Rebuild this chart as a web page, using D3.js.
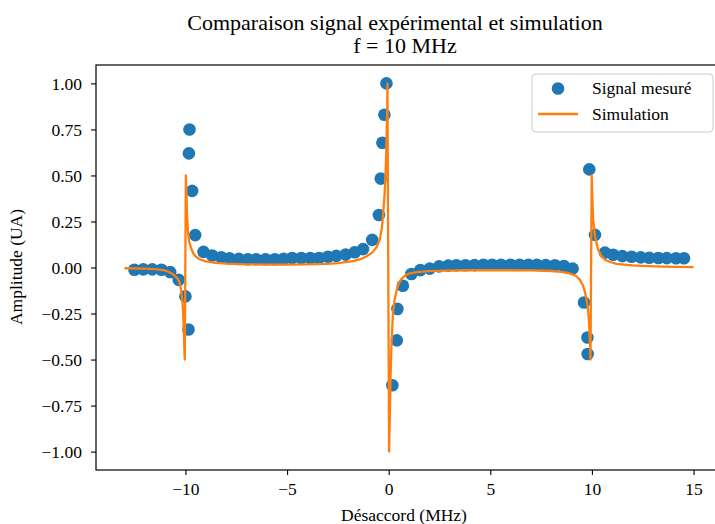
<!DOCTYPE html>
<html>
<head>
<meta charset="utf-8">
<script src="https://cdn.jsdelivr.net/npm/d3@7"></script>
<style>
  body { margin: 0; background: #fff; }
  svg text { font-family: "Liberation Serif", "DejaVu Serif", serif; fill: #000; }
</style>
</head>
<body>
<div id="chart"></div>
<script>
const mesX = [-12.51, -12.07, -11.63, -11.18, -10.75, -10.33, -10.0, -9.85, -9.83, -9.80,
  -9.67, -9.52, -9.11, -8.68, -8.24, -7.83, -7.37, -6.93, -6.52, -6.06,
  -5.6, -5.17, -4.75, -4.3, -3.86, -3.43, -2.99, -2.58, -2.12, -1.67,
  -1.26, -0.81, -0.48, -0.39, -0.31, -0.21, -0.11, 0.18, 0.40, 0.43,
  0.70, 1.12, 1.56, 2.02, 2.48, 2.93, 3.33, 3.78, 4.22, 4.66,
  5.09, 5.53, 6.0, 6.44, 6.87, 7.29, 7.73, 8.18, 8.62, 9.05,
  9.61, 9.78, 9.79, 9.87, 10.15, 10.64, 11.05, 11.5, 11.95, 12.4,
  12.82, 13.27, 13.68, 14.14, 14.53];
const mesY = [-0.012, -0.010, -0.010, -0.012, -0.025, -0.067, -0.157, -0.337, 0.62, 0.75,
  0.416, 0.176, 0.085, 0.065, 0.056, 0.050, 0.047, 0.045, 0.045, 0.045,
  0.045, 0.047, 0.052, 0.052, 0.052, 0.052, 0.058, 0.063, 0.070, 0.083,
  0.10, 0.15, 0.285, 0.483, 0.678, 0.83, 1.0, -0.64, -0.396, -0.225,
  -0.099, -0.035, -0.014, -0.006, 0.006, 0.010, 0.012, 0.012, 0.013, 0.015,
  0.015, 0.015, 0.015, 0.015, 0.015, 0.015, 0.013, 0.012, 0.008, -0.006,
  -0.19, -0.38, -0.47, 0.533, 0.177, 0.081, 0.069, 0.062, 0.058, 0.055,
  0.053, 0.052, 0.051, 0.050, 0.050];

// simulation curve
const simX = [-13.0, -12.0, -11.5, -11.0, -10.8, -10.6, -10.4, -10.3, -10.22, -10.15,
  -10.11, -10.08, -10.05, -10.03, -9.98, -9.95, -9.92, -9.88, -9.82, -9.72,
  -9.6, -9.48, -9.3, -9.0, -8.5, -8.0, -7.0, -6.0, -5.0, -4.0,
  -3.0, -2.5, -2.0, -1.7, -1.4, -1.1, -0.8, -0.6, -0.44, -0.34,
  -0.28, -0.2, -0.14, -0.1, -0.07, -0.06, 0.02, 0.06, 0.09, 0.13,
  0.21, 0.3, 0.36, 0.45, 0.6, 0.8, 1.03, 1.4, 2.0, 2.8,
  4.0, 5.0, 6.0, 7.0, 8.0, 8.5, 8.9, 9.2, 9.4, 9.55,
  9.65, 9.73, 9.8, 9.86, 9.9, 9.93, 9.99, 10.02, 10.06, 10.15,
  10.31, 10.45, 10.64, 10.9, 11.2, 12.0, 12.5, 13.5, 15.0];
const simY = [-0.004, -0.006, -0.009, -0.016, -0.025, -0.038, -0.058, -0.078, -0.12, -0.18,
  -0.25, -0.35, -0.45, -0.50, 0.50, 0.40, 0.29, 0.20, 0.14, 0.105,
  0.075, 0.058, 0.045, 0.033, 0.025, 0.021, 0.017, 0.016, 0.016, 0.017,
  0.020, 0.024, 0.030, 0.036, 0.045, 0.060, 0.082, 0.11, 0.15, 0.21,
  0.28, 0.40, 0.55, 0.72, 0.88, 1.00, -1.00, -0.80, -0.60, -0.445,
  -0.245, -0.17, -0.14, -0.10, -0.066, -0.045, -0.032, -0.025, -0.020, -0.017,
  -0.015, -0.015, -0.015, -0.016, -0.019, -0.024, -0.032, -0.045, -0.066, -0.095,
  -0.13, -0.17, -0.22, -0.30, -0.40, -0.50, 0.50, 0.38, 0.26, 0.17,
  0.096, 0.065, 0.042, 0.030, 0.020, 0.012, 0.009, 0.005, 0.002];

const xTicks = [-10, -5, 0, 5, 10, 15];
const yTicks = [-1.0, -0.75, -0.5, -0.25, 0, 0.25, 0.5, 0.75, 1.0];

const W = 715, H = 524;
const mL = 96, mR = 722, mT = 65, mB = 470;
const fs = "17.5px";

const svg = d3.select("#chart").append("svg")
  .attr("width", W).attr("height", H)
  .attr("xmlns", "http://www.w3.org/2000/svg");

const x = d3.scaleLinear().domain([-14.4, 16.4]).range([mL, mR]);
const y = d3.scaleLinear().domain([-1.1, 1.1]).range([mB, mT]);

const minus = s => s.replace("-", "\u2212");

// clip
svg.append("clipPath").attr("id", "plot")
  .append("rect").attr("x", mL).attr("y", mT)
  .attr("width", mR - mL).attr("height", mB - mT);

const plot = svg.append("g").attr("clip-path", "url(#plot)");

// measured points
plot.selectAll("circle.mes")
  .data(mesX.map((v, i) => [v, mesY[i]]))
  .join("circle")
  .attr("class", "mes")
  .attr("cx", d => x(d[0]))
  .attr("cy", d => y(d[1]))
  .attr("r", 6.3)
  .attr("fill", "#1f77b4");

// simulation line
const line = d3.line().x(d => x(d[0])).y(d => y(d[1]));
plot.append("path")
  .datum(simX.map((v, i) => [v, simY[i]]))
  .attr("fill", "none")
  .attr("stroke", "#ff7f0e")
  .attr("stroke-width", 2.3)
  .attr("stroke-linejoin", "round")
  .attr("d", line);

// axes
const xAxis = svg.append("g")
  .attr("transform", `translate(0,${mB})`)
  .call(d3.axisBottom(x).tickValues(xTicks).tickSize(5).tickPadding(8)
    .tickFormat(d => minus(d3.format("d")(d))));
const yAxis = svg.append("g")
  .attr("transform", `translate(${mL},0)`)
  .call(d3.axisLeft(y).tickValues(yTicks).tickSize(5).tickPadding(9)
    .tickFormat(d => minus(d3.format(".2f")(d))));

[xAxis, yAxis].forEach(a => {
  a.select(".domain").remove();
  a.selectAll(".tick line").attr("stroke", "#000").attr("stroke-width", 1.1);
  a.selectAll(".tick text").style("font-size", fs)
    .style("font-family", "'Liberation Serif', serif");
});
yAxis.selectAll(".tick text").attr("dy", "0.35em");

// spines
svg.append("rect")
  .attr("x", mL).attr("y", mT)
  .attr("width", mR - mL).attr("height", mB - mT)
  .attr("fill", "none").attr("stroke", "#000").attr("stroke-width", 1.2);

// labels
svg.append("text").attr("x", 404).attr("y", 521)
  .attr("text-anchor", "middle").style("font-size", fs)
  .text("Désaccord (MHz)");
svg.append("text")
  .attr("transform", "translate(22,267) rotate(-90)")
  .attr("text-anchor", "middle").style("font-size", fs)
  .text("Amplitude (UA)");

svg.append("text").attr("x", 395).attr("y", 30)
  .attr("text-anchor", "middle").style("font-size", "22px")
  .text("Comparaison signal expérimental et simulation");
svg.append("text").attr("x", 405).attr("y", 53)
  .attr("text-anchor", "middle").style("font-size", "22px")
  .text("f = 10 MHz");

// legend
const leg = svg.append("g");
leg.append("rect")
  .attr("x", 532).attr("y", 74).attr("width", 181).attr("height", 58)
  .attr("rx", 4).attr("fill", "#fff").attr("fill-opacity", 0.8)
  .attr("stroke", "#cccccc").attr("stroke-width", 1);
leg.append("circle").attr("cx", 558).attr("cy", 88.5).attr("r", 6.3).attr("fill", "#1f77b4");
leg.append("line").attr("x1", 538).attr("x2", 578).attr("y1", 114).attr("y2", 114)
  .attr("stroke", "#ff7f0e").attr("stroke-width", 2.3);
leg.append("text").attr("x", 592).attr("y", 94).style("font-size", fs).text("Signal mesuré");
leg.append("text").attr("x", 592).attr("y", 120).style("font-size", fs).text("Simulation");
</script>
</body>
</html>
